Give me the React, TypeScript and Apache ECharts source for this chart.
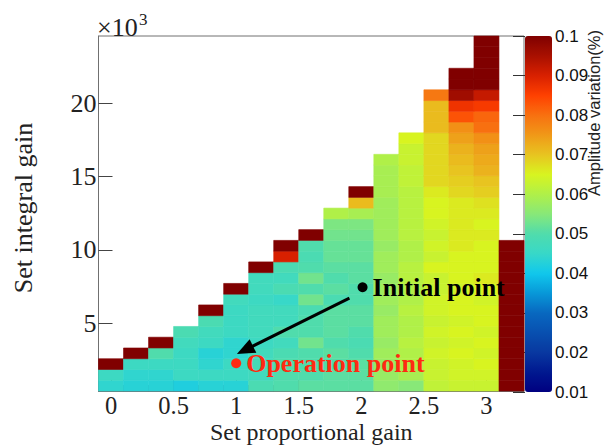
import React, { useEffect, useRef } from "react";
import * as echarts from "echarts";

// Proportional gain (bin centres) and bins of the integral gain (x10^3)
const propGains = [0, 0.2, 0.4, 0.6, 0.8, 1.0, 1.2, 1.4, 1.6, 1.8, 2.0, 2.2, 2.4, 2.6, 2.8, 3.0, 3.2];
const propBinWidth = 0.2;
const intGainFirstEdge = 0.39; // x10^3
const intGainBinWidth = 0.733; // x10^3

// Amplitude variation (%) per column, from the lowest integral-gain bin upwards
const col00 = [0.044, 0.046, 0.1];
const col01 = [0.043, 0.044, 0.046, 0.1];
const col02 = [0.043, 0.044, 0.046, 0.050, 0.1];
const col03 = [0.042, 0.046, 0.046, 0.046, 0.047, 0.049];
const col04 = [0.043, 0.046, 0.044, 0.043, 0.046, 0.047, 0.049, 0.1];
const col05 = [0.043, 0.046, 0.046, 0.044, 0.044, 0.046, 0.046, 0.046, 0.047, 0.1];
const col06 = [0.049, 0.047, 0.048, 0.047, 0.046, 0.047, 0.047, 0.047, 0.046, 0.047, 0.047, 0.1];
const col07 = [0.050, 0.050, 0.050, 0.049, 0.047, 0.050, 0.047, 0.047, 0.045, 0.049, 0.047, 0.049, 0.090, 0.1];
const col08 = [0.051, 0.050, 0.050, 0.050, 0.053, 0.050, 0.050, 0.049, 0.053, 0.050, 0.053, 0.050, 0.049, 0.050, 0.1];
const col09 = [0.051, 0.051, 0.050, 0.051, 0.050, 0.051, 0.051, 0.051, 0.049, 0.051, 0.050, 0.051, 0.052, 0.052, 0.053, 0.054, 0.060];
const col10 = [0.051, 0.051, 0.051, 0.050, 0.049, 0.050, 0.051, 0.051, 0.050, 0.050, 0.051, 0.051, 0.052, 0.052, 0.053, 0.054, 0.059, 0.071, 0.1];
const col11 = [0.056, 0.057, 0.057, 0.058, 0.057, 0.058, 0.058, 0.057, 0.058, 0.058, 0.057, 0.058, 0.058, 0.057, 0.058, 0.058, 0.058, 0.058, 0.059, 0.059, 0.059, 0.060];
const col12 = [0.055, 0.059, 0.060, 0.060, 0.061, 0.060, 0.060, 0.061, 0.060, 0.060, 0.061, 0.061, 0.060, 0.060, 0.061, 0.061, 0.061, 0.061, 0.061, 0.062, 0.062, 0.063, 0.063, 0.065];
const col13 = [0.062, 0.063, 0.063, 0.064, 0.063, 0.064, 0.063, 0.064, 0.064, 0.063, 0.063, 0.065, 0.063, 0.064, 0.063, 0.064, 0.065, 0.065, 0.066, 0.068, 0.068, 0.068, 0.068, 0.068, 0.071, 0.071, 0.071, 0.079];
const col14 = [0.063, 0.064, 0.064, 0.065, 0.064, 0.065, 0.064, 0.065, 0.065, 0.064, 0.065, 0.065, 0.065, 0.066, 0.066, 0.066, 0.066, 0.066, 0.068, 0.069, 0.070, 0.071, 0.072, 0.074, 0.076, 0.083, 0.087, 0.096, 0.1, 0.1];
const col15 = [0.063, 0.064, 0.065, 0.064, 0.065, 0.064, 0.065, 0.065, 0.064, 0.065, 0.066, 0.065, 0.065, 0.065, 0.066, 0.065, 0.066, 0.067, 0.069, 0.070, 0.072, 0.073, 0.074, 0.076, 0.080, 0.081, 0.086, 0.092, 0.1, 0.1, 0.1, 0.1, 0.1];
const col16 = [0.1, 0.1, 0.1, 0.1, 0.1, 0.1, 0.1, 0.1, 0.1, 0.1, 0.1, 0.1, 0.1, 0.1];
const columns = [col00, col01, col02, col03, col04, col05, col06, col07, col08, col09, col10, col11, col12, col13, col14, col15, col16];

// Ticks
const xTickValues = [0, 0.5, 1, 1.5, 2, 2.5, 3];
const xMinorTickValues = [0.1, 0.2, 0.3, 0.4, 0.6, 0.7, 0.8, 0.9, 1.1, 1.2, 1.3, 1.4, 1.6, 1.7, 1.8, 1.9, 2.1, 2.2, 2.3, 2.4, 2.6, 2.7, 2.8, 2.9, 3.1, 3.2];
const yTickValues = [5, 10, 15, 20];
const colorMin = 0.01;
const colorMax = 0.1;
const colorStep = 0.01;

// Annotations (data coordinates)
const initialPoint = [2.01, 7.46];
const operationPoint = [1.0, 2.28];
const arrowFrom = [1.905, 6.72];
const arrowTo = [1.07, 3.18];

const palette = [
  "#000080", "#001890", "#0838a0", "#0850b0", "#0868c0", "#0898d8", "#10c8ec",
  "#38d8c8", "#50dcac", "#88e878", "#b0f048", "#d8f420", "#e8c420", "#f09818",
  "#f87010", "#ff4000", "#d82000", "#a81000", "#800000",
];

const SERIF = '"Liberation Serif", "Times New Roman", serif';
const SANS = '"Liberation Sans", Arial, sans-serif';

export default function App() {
  const ref = useRef<HTMLDivElement>(null);
  useEffect(() => {
    if (!ref.current) return;
    const chart = echarts.init(ref.current, undefined, { renderer: "svg" });

    const cells: number[][] = [];
    columns.forEach((col, i) => {
      col.forEach((v, r) => {
        const lo = intGainFirstEdge + r * intGainBinWidth;
        const hi = intGainFirstEdge + (r + 1) * intGainBinWidth;
        cells.push([propGains[i], lo, hi, v]);
      });
    });
    const yMax = intGainFirstEdge + 33 * intGainBinWidth;

    const axisColor = "#707070";
    const tickColor = "#444";
    const red = "#ff2a12";

    chart.setOption({
      animation: false,
      backgroundColor: "#ffffff",
      grid: [
        { left: 98.5, top: 36, width: 425.5, height: 355, show: true, borderColor: axisColor, borderWidth: 1, backgroundColor: "transparent", containLabel: false, outerBoundsMode: "none" },
        { left: 525, top: 36, width: 27, height: 356, show: false, containLabel: false, outerBoundsMode: "none" },
      ],
      xAxis: [
        {
          gridIndex: 0, type: "value", min: -0.1, max: 3.3, position: "bottom",
          axisLine: { show: true, onZero: false, lineStyle: { color: axisColor } },
          axisTick: { show: true, inside: true, length: 11, customValues: xTickValues, lineStyle: { color: tickColor } },
          axisLabel: { customValues: xTickValues, fontFamily: SERIF, fontSize: 24.5, color: "#222", margin: 2 },
          splitLine: { show: false },
          name: "Set proportional gain", nameLocation: "middle", nameGap: 29, nameMoveOverlap: false,
          nameTextStyle: { fontFamily: SERIF, fontSize: 24, color: "#222" },
        },
        {
          gridIndex: 0, type: "value", min: -0.1, max: 3.3, position: "bottom",
          axisLine: { show: false },
          axisTick: { show: true, inside: true, length: 6, customValues: xMinorTickValues, lineStyle: { color: tickColor } },
          axisLabel: { show: false },
          splitLine: { show: false },
        },
        { gridIndex: 1, type: "value", min: 0, max: 1, show: false },
      ],
      yAxis: [
        {
          gridIndex: 0, type: "value", min: intGainFirstEdge, max: yMax,
          axisLine: { show: true, onZero: false, lineStyle: { color: axisColor } },
          axisTick: { show: true, inside: true, length: 14, customValues: yTickValues, lineStyle: { color: tickColor } },
          axisLabel: { customValues: yTickValues, fontFamily: SERIF, fontSize: 26, color: "#222", margin: 2 },
          splitLine: { show: false },
        },
        {
          gridIndex: 1, type: "value", min: colorMin, max: colorMax, interval: colorStep, position: "right",
          axisLine: { show: false },
          axisTick: { show: true, inside: true, length: 12, lineStyle: { color: "#333" } },
          axisLabel: { fontFamily: SANS, fontSize: 17, color: "#111", margin: 3 },
          splitLine: { show: false },
        },
      ],
      visualMap: {
        type: "continuous", min: colorMin, max: colorMax, dimension: 3, seriesIndex: 0,
        inRange: { color: palette }, calculable: false, show: true, orient: "vertical",
        left: 525, top: 36, itemWidth: 27, itemHeight: 356, padding: 0, hoverLink: false,
      },
      graphic: [
        { type: "text", x: 23, y: 208, rotation: Math.PI / 2, style: { text: "Set integral gain", fontFamily: SERIF, fontSize: 26, fill: "#222", align: "center", verticalAlign: "middle" } },
        { type: "text", x: 97, y: 27, style: { text: "×10", fontFamily: SERIF, fontSize: 26, fill: "#222", align: "left", verticalAlign: "middle" } },
        { type: "text", x: 139, y: 19, style: { text: "3", fontFamily: SERIF, fontSize: 17, fill: "#222", align: "left", verticalAlign: "middle" } },
        { type: "text", x: 594, y: 30, rotation: Math.PI / 2, style: { text: "Amplitude variation(%)", fontFamily: SANS, fontSize: 16.5, fill: "#222", align: "right", verticalAlign: "middle" } },
      ],
      series: [
        {
          type: "custom", xAxisIndex: 0, yAxisIndex: 0, data: cells,
          encode: { x: 0, y: [1, 2] },
          renderItem: (params: any, api: any) => {
            const x = api.value(0);
            const lo = api.value(1);
            const hi = api.value(2);
            const a = api.coord([x - propBinWidth / 2, lo]);
            const b = api.coord([x + propBinWidth / 2, hi]);
            const color = api.visual("color");
            return {
              type: "rect",
              shape: { x: a[0], y: b[1], width: b[0] - a[0], height: a[1] - b[1] },
              style: { fill: color, stroke: color, lineWidth: 0.6 },
            };
          },
        },
        {
          type: "scatter", xAxisIndex: 0, yAxisIndex: 0, symbolSize: 10, z: 5,
          itemStyle: { opacity: 1 },
          data: [
            { value: initialPoint, name: "Initial point", itemStyle: { color: "#000", opacity: 1 }, label: { color: "#000" } },
            { value: operationPoint, name: "Operation point", itemStyle: { color: red, opacity: 1 }, label: { color: red } },
          ],
          label: { show: true, position: "right", distance: 5, formatter: "{b}", fontFamily: SERIF, fontWeight: "bold", fontSize: 26, opacity: 1, textBorderWidth: 0 },
          markLine: {
            silent: true, symbol: ["none", "triangle"], symbolSize: [15, 18], label: { show: false },
            lineStyle: { color: "#000", width: 3, type: "solid", opacity: 1 },
            data: [[{ coord: arrowFrom }, { coord: arrowTo }]],
          },
        },
      ],
    });
    return () => chart.dispose();
  }, []);
  return <div ref={ref} style={{ position: "absolute", left: 0, top: 0, width: 604, height: 447, background: "#fff" }} />;
}
